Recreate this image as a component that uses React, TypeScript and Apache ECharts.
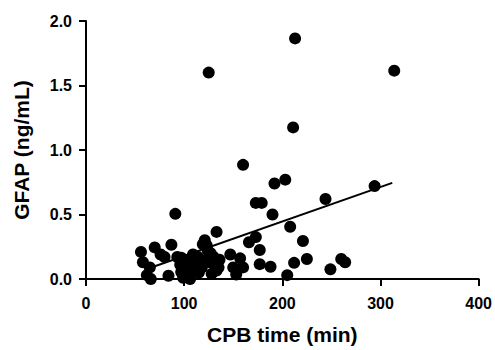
import React, { useEffect, useRef } from "react";
import * as echarts from "echarts";

const cpbTime = [
  56, 58, 62, 65, 66, 70, 76, 80, 84, 87, 91, 93, 97, 96, 97, 99, 99, 104, 106, 106,
  109, 109, 112, 114, 116, 118, 119, 121, 123, 124, 123, 126, 128, 130, 133, 133, 136, 135, 125, 147,
  150, 153, 157, 160, 160, 166, 173, 177, 177, 173, 179, 188, 190, 192, 203, 205, 208, 211, 212, 213,
  221, 225, 244, 249, 260, 264, 294, 314, 110, 101, 115, 127,
];
const gfap = [
  0.21, 0.13, 0.03, 0.09, 0.0, 0.245, 0.19, 0.17, 0.025, 0.265, 0.505, 0.17, 0.165, 0.11, 0.055, 0.01, 0.09, 0.12, 0.0, 0.03,
  0.19, 0.07, 0.15, 0.17, 0.115, 0.09, 0.27, 0.3, 0.26, 0.22, 0.15, 0.13, 0.04, 0.17, 0.065, 0.365, 0.15, 0.09, 1.6, 0.19,
  0.09, 0.035, 0.16, 0.09, 0.885, 0.285, 0.325, 0.225, 0.115, 0.59, 0.59, 0.095, 0.5, 0.74, 0.77, 0.03, 0.405, 1.175, 0.125, 1.865,
  0.295, 0.155, 0.62, 0.075, 0.155, 0.13, 0.72, 1.615, 0.13, 0.15, 0.05, 0.2,
];
const trendX = [65, 312];
const trendY = [0.085, 0.745];
const xTicks = [0, 100, 200, 300, 400];
const yTicks = [0, 0.5, 1.0, 1.5, 2.0];

export default function App() {
  const ref = useRef<HTMLDivElement>(null);
  useEffect(() => {
    if (!ref.current) return;
    const chart = echarts.init(ref.current, null, { renderer: "svg" });
    const font = "'Liberation Sans', Arial, sans-serif";
    const axisCommon = {
      axisLine: { show: true, onZero: false, lineStyle: { color: "#000", width: 2 } },
      axisTick: { show: true, inside: false, length: 7, lineStyle: { color: "#000", width: 2 } },
      splitLine: { show: false },
      nameLocation: "middle" as const,
      nameTextStyle: { fontFamily: font, fontWeight: "bold" as const, fontSize: 21, color: "#000" },
    };
    chart.setOption({
      animation: false,
      backgroundColor: "#fff",
      grid: { left: 86, right: 16, top: 21, bottom: 68 },
      xAxis: {
        type: "value",
        min: xTicks[0],
        max: xTicks[xTicks.length - 1],
        interval: xTicks[1] - xTicks[0],
        name: "CPB time (min)",
        nameGap: 45,
        ...axisCommon,
        axisLabel: { fontFamily: font, fontWeight: "bold", fontSize: 16, color: "#000", margin: 16 },
      },
      yAxis: {
        type: "value",
        min: yTicks[0],
        max: yTicks[yTicks.length - 1],
        interval: yTicks[1] - yTicks[0],
        name: "GFAP (ng/mL)",
        nameGap: 54,
        ...axisCommon,
        axisLabel: {
          fontFamily: font,
          fontWeight: "bold",
          fontSize: 16,
          color: "#000",
          margin: 14,
          formatter: (v: number) => v.toFixed(1),
        },
      },
      series: [
        {
          type: "scatter",
          data: cpbTime.map((x, i) => [x, gfap[i]]),
          symbol: "circle",
          symbolSize: 12,
          itemStyle: { color: "#000", opacity: 1 },
        },
        {
          type: "line",
          data: trendX.map((x, i) => [x, trendY[i]]),
          symbol: "none",
          lineStyle: { color: "#000", width: 2 },
        },
      ],
    });
    return () => chart.dispose();
  }, []);
  return <div ref={ref} style={{ width: 495, height: 350, position: "absolute", left: 0, top: 0 }} />;
}
